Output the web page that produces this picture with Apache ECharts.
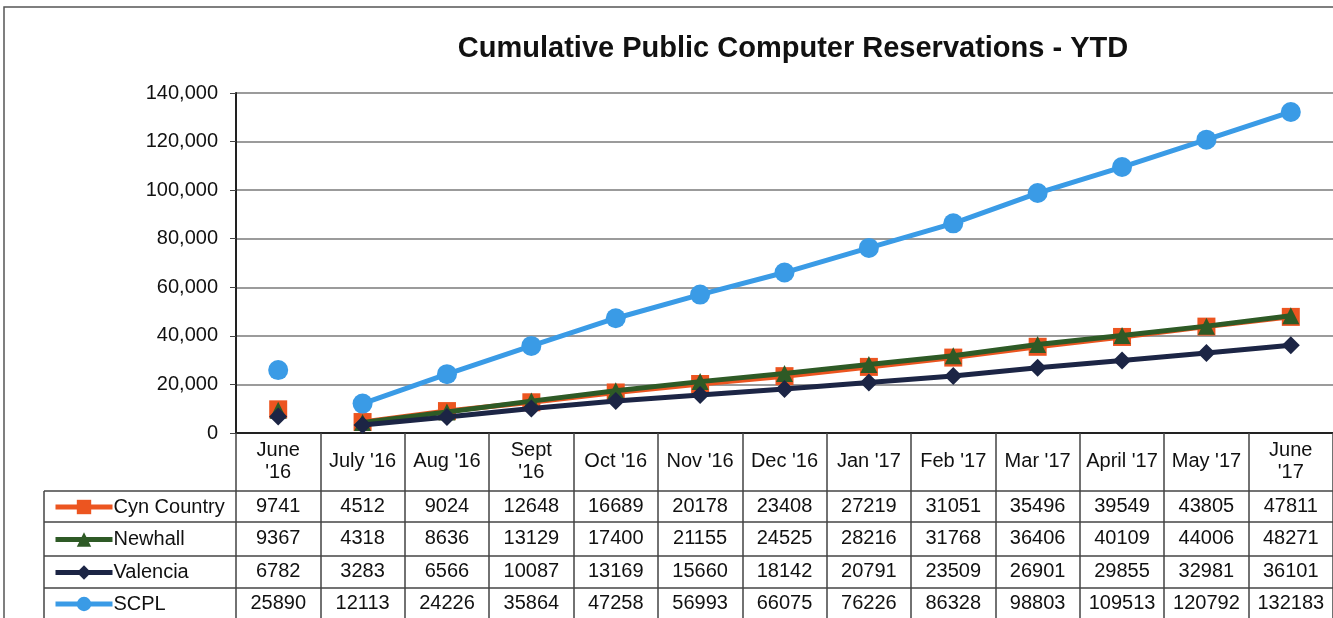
<!DOCTYPE html>
<html>
<head>
<meta charset="utf-8">
<script src="https://cdn.jsdelivr.net/npm/echarts@6/dist/echarts.min.js"></script>
<style>
html,body{margin:0;padding:0;background:#fff;}
#c{width:1333px;height:618px;}
</style>
</head>
<body>
<div id="c"></div>
<script>
const title = "Cumulative Public Computer Reservations - YTD";
const categories = ["June\n'16","July '16","Aug '16","Sept\n'16","Oct '16","Nov '16","Dec '16","Jan '17","Feb '17","Mar '17","April '17","May '17","June\n'17"];
const seriesNames = ["Cyn Country","Newhall","Valencia","SCPL"];
const cynCountry = [9741,4512,9024,12648,16689,20178,23408,27219,31051,35496,39549,43805,47811];
const newhall    = [9367,4318,8636,13129,17400,21155,24525,28216,31768,36406,40109,44006,48271];
const valencia   = [6782,3283,6566,10087,13169,15660,18142,20791,23509,26901,29855,32981,36101];
const scpl       = [25890,12113,24226,35864,47258,56993,66075,76226,86328,98803,109513,120792,132183];
const yTicks = [0,20000,40000,60000,80000,100000,120000,140000];

const values = [cynCountry, newhall, valencia, scpl];
const colors = ["#EC5520","#2E5A26","#1C2545","#3A9BE6"];
const symbols = ["rect","triangle","diamond","circle"];
const symbolSizes = [18,17,18,20];

const gridTop = 93, gridBottomY = 433, H = 618;
const rowCenters = [506, 538.5, 571.5, 603];
const rowLines = [491, 522, 556, 588];
const font = "Liberation Sans, Arial, sans-serif";

const chart = echarts.init(document.getElementById('c'));

const xAxes = [{
  type:'category', data: categories, gridIndex:0, boundaryGap:true,
  axisLine:{show:true, lineStyle:{color:'#222', width:2}},
  axisTick:{show:true, length: H - gridBottomY, lineStyle:{color:'#444', width:1.5}},
  axisLabel:{interval:0, margin:28, verticalAlign:'middle', fontSize:20, lineHeight:22, color:'#111', fontFamily:font, align:'center'},
  splitLine:{show:false}
}];
values.forEach((arr, k) => {
  xAxes.push({
    type:'category', data: arr.map(String), gridIndex:0, position:'bottom',
    offset: rowCenters[k] - gridBottomY,
    axisLine:{show:false}, axisTick:{show:false}, splitLine:{show:false},
    axisLabel:{interval:0, margin:0, verticalAlign:'middle', fontSize:20, color:'#111', fontFamily:font}
  });
});

const series = [];
values.forEach((arr, k) => {
  series.push({
    name: seriesNames[k], type:'line', xAxisIndex:0, yAxisIndex:0,
    data: arr.map((v,i) => i === 0 ? null : v),
    connectNulls:false,
    symbol: symbols[k], symbolSize: symbolSizes[k], showAllSymbol:true,
    lineStyle:{color:colors[k], width:5},
    itemStyle:{color:colors[k]},
    z: 2 + k
  });
  series.push({
    name: seriesNames[k], type:'line', xAxisIndex:0, yAxisIndex:0,
    data: arr.map((v,i) => i === 0 ? v : null),
    symbol: symbols[k], symbolSize: symbolSizes[k], showAllSymbol:true,
    lineStyle:{color:colors[k], width:5},
    itemStyle:{color:colors[k]},
    z: 2 + k
  });
});

const legends = seriesNames.map((n, k) => ({
  data:[n], left:48, top: rowCenters[k] - 14, itemWidth:57, itemHeight:18, itemGap:0,
  lineStyle:{width:5},
  textStyle:{fontSize:20, color:'#111', fontFamily:font, padding:[0,0,0,-4]},
  selectedMode:false
}));

const graphics = [
  {type:'rect', shape:{x:4, y:7, width:1400, height:700}, style:{fill:'none', stroke:'#555', lineWidth:1.5}, z:0},
  {type:'line', shape:{x1:44, y1:rowLines[0], x2:44, y2:H}, style:{stroke:'#444', lineWidth:1.5}}
];
rowLines.forEach(y => graphics.push({type:'line', shape:{x1:44, y1:y, x2:1333, y2:y}, style:{stroke:'#444', lineWidth:1.5}}));

chart.setOption({
  animation:false,
  backgroundColor:'#fff',
  title:{text:title, left:788, textAlign:'center', top:29, textStyle:{fontSize:29, fontWeight:'bold', color:'#111', fontFamily:font}},
  legend: legends,
  grid:{left:236, right:0, top:gridTop, bottom:H - gridBottomY, containLabel:false},
  xAxis: xAxes,
  yAxis:{type:'value', min:yTicks[0], max:yTicks[yTicks.length-1], interval:yTicks[1]-yTicks[0],
    axisLine:{show:true, lineStyle:{color:'#222', width:2}},
    axisTick:{show:true, length:6, lineStyle:{color:'#444'}},
    axisLabel:{fontSize:20, color:'#111', fontFamily:font, margin:18, formatter: v => v.toLocaleString('en-US')},
    splitLine:{show:true, lineStyle:{color:'#7a7a7a', width:1.5}}
  },
  graphic: graphics,
  series: series
});
</script>
</body>
</html>
